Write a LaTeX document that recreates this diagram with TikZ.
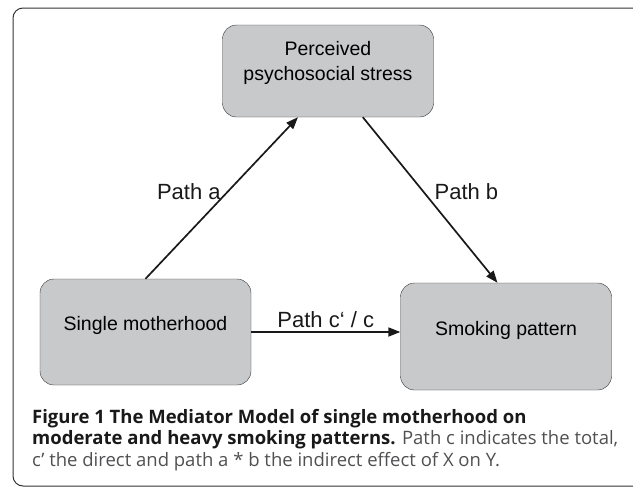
\documentclass[tikz,border=0pt]{standalone}
\usepackage{fontspec}
\setmainfont{Liberation Sans}
\newfontfamily\capfont{Open Sans}
\usetikzlibrary{arrows.meta}
\definecolor{boxgray}{RGB}{200,201,203}
\definecolor{capgray}{RGB}{80,80,82}
\tikzstyle{box}=[draw=black!80,fill=boxgray,rounded corners=14pt,inner sep=0pt,minimum width=211pt,font=\fontsize{19.5}{25}\selectfont]
\tikzstyle{arr}=[-{Triangle[length=12pt,width=9pt]},line width=1.7pt,black!90]
\tikzstyle{lbl}=[font=\fontsize{22}{26}\selectfont]

\begin{document}
\begin{tikzpicture}[x=1pt,y=-1pt]
\useasboundingbox (0,0) rectangle (633,488);
\draw[black!80,line width=1pt,rounded corners=10pt] (13,8) rectangle (650,486);
% the three variables
\node[box,align=center,text height=55pt,text depth=37pt] (stress) at (328,71) {Perceived\\psychosocial stress};
\node[box,text height=51pt,text depth=55pt] (single) at (145.5,332) {Single motherhood};
\node[box,text height=52pt,text depth=55pt] (smoking) at (506,336.5) {Smoking pattern};
% paths
\draw[arr] (single.north) -- (stress.237) node[lbl,pos=.54,left,xshift=-3pt] (patha) {Path a};
\draw[arr] (stress.307) -- (smoking.99) node[lbl,pos=.45,right,xshift=7pt] (pathb) {Path b};
\draw[arr] (single.east) -- (single.east -| smoking.west) node[lbl,midway,above,inner sep=3pt] (pathc) {Path c‘ / c};
% caption
\node[anchor=north west,inner sep=0pt,align=left,font=\capfont\fontsize{18.5}{21.5}\selectfont,text=capgray] (caption) at (32,409)
{\textbf{\color{black!90}Figure 1 The Mediator Model of single motherhood on}\\
\textbf{\color{black!90}moderate and heavy smoking patterns.} Path c indicates the total,\\
c’ the direct and path a * b the indirect effect of X on Y.};
\end{tikzpicture}
\end{document}
